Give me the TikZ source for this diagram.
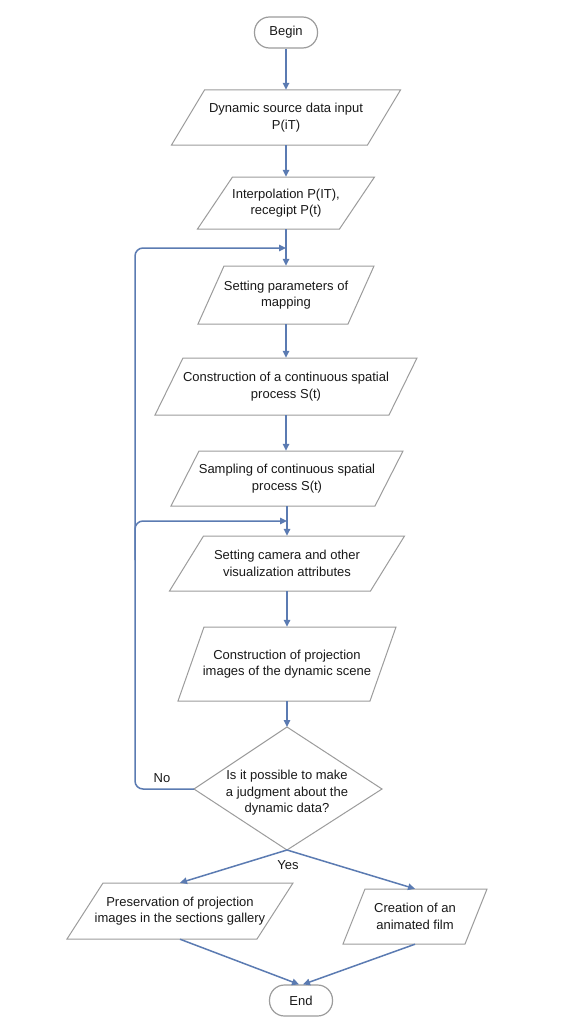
\documentclass[tikz,border=0pt]{standalone}
\usepackage{fontspec}
\setmainfont{Liberation Sans}
\usetikzlibrary{arrows.meta}
\definecolor{flow}{HTML}{5B7BB2}
\definecolor{edge}{HTML}{9C9C9C}
\tikzset{
 txt/.style={align=center, inner sep=0pt, font=\fontsize{13}{16.5}\selectfont, text=black!90},
 outline/.style={draw=edge, line width=1pt, line join=miter},
 term/.style={txt, draw=edge, line width=1.2pt, rounded corners=15pt, minimum width=63pt, minimum height=31pt},
 flowline/.style={draw=flow, line width=1.5pt, -{Triangle[length=7pt,width=6.5pt]}},
 lbl/.style={font=\fontsize{13}{16.5}\selectfont, inner sep=0pt, text=black!90},
}
\newcommand{\pgram}[7]{%
 \node[txt, minimum width={2*#4}, minimum height={2*#5}] (#1) at (#2,#3) {#7};
 \draw[outline] ({#2-#4+#6},{#3-#5}) -- ({#2+#4+#6},{#3-#5}) -- ({#2+#4-#6},{#3+#5}) -- ({#2-#4-#6},{#3+#5}) -- cycle;
}
\begin{document}
\begin{tikzpicture}[x=1pt,y=-1pt]
\useasboundingbox[fill=white] (0,0) rectangle (585,1022);

\node[term] (begin) at (286,32.5) {Begin};
\pgram{p1}{286}{117.5}{98}{27.5}{16.5}{Dynamic source data input\\P(iT)}
\pgram{p2}{286}{203}{71}{26}{17.5}{Interpolation P(IT),\\recegipt P(t)}
\pgram{p3}{286}{295}{75}{29}{13}{Setting parameters of\\mapping}
\pgram{p4}{286}{386.5}{117}{28.5}{14}{Construction of a continuous spatial\\process S(t)}
\pgram{p5}{287}{478.5}{102}{27.5}{14}{Sampling of continuous spatial\\process S(t)}
\pgram{p6}{287}{563.5}{100.5}{27.5}{17}{Setting camera and other\\visualization attributes}
\pgram{p7}{287}{664}{96}{37}{13}{Construction of projection\\images of the dynamic scene}

\coordinate (dt) at (287,727);
\coordinate (dl) at (194,789);
\coordinate (dr) at (382,789);
\coordinate (db) at (287,850);
\draw[outline] (dt) -- (dr) -- (db) -- (dl) -- cycle;
\node[txt] (dec) at (287,793) {Is it possible to make\\a judgment about the\\dynamic data?};

\pgram{p8}{180}{911}{95}{28}{18}{Preservation of projection\\images in the sections gallery}
\pgram{p9}{415}{916.5}{61}{27.5}{11}{Creation of an\\animated film}
\node[term] (end) at (301,1000.5) {End};

% connectors
\draw[flowline] (begin.south) -- (p1.north);
\draw[flowline] (p1.south) -- (p2.north);
\draw[flowline] (p2.south) -- (p3.north);
\draw[flowline] (p3.south) -- (p4.north);
\draw[flowline] (p4.south) -- (p4.south |- p5.north);
\draw[flowline] (p5.south) -- (p6.north);
\draw[flowline] (p6.south) -- (p7.north);
\draw[flowline] (p7.south) -- (dt);

\coordinate (fb1) at (286,248);
\coordinate (fb2) at (287,521);
\coordinate (lc) at (135,789);
\coordinate (lt) at (135,248);
\coordinate (lm) at (135,521);
\coordinate (lm2) at (135,560);
\draw[flowline, rounded corners=8pt] (dl) -- (lc) -- (lt) -- (fb1);
\draw[flowline, rounded corners=8pt] (lm2) -- (lm) -- (fb2);
\node[lbl] (no) at (162,778) {No};

\draw[flowline] (db) -- (p8.north);
\draw[flowline] (db) -- (p9.north);
\node[lbl] (yes) at (288,865.5) {Yes};

\coordinate (e1) at ([xshift=-2pt]end.north);
\coordinate (e2) at ([xshift=2pt]end.north);
\draw[flowline] (p8.south) -- (e1);
\draw[flowline] (p9.south) -- (e2);
\end{tikzpicture}
\end{document}
